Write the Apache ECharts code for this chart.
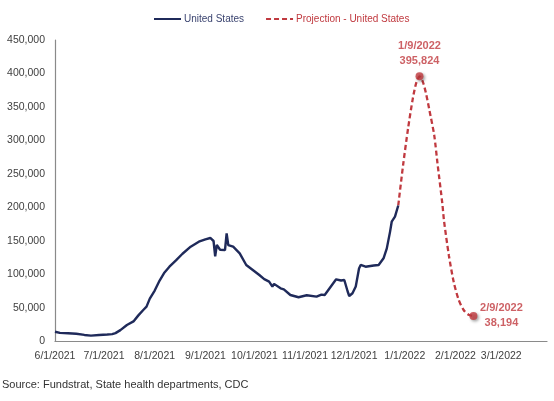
<!DOCTYPE html>
<html>
<head>
<meta charset="utf-8">
<script src="https://cdn.jsdelivr.net/npm/echarts@6/dist/echarts.min.js"></script>
<style>
html,body{margin:0;padding:0;background:#fff;}
#chart{width:554px;height:401px;}
</style>
</head>
<body>
<div id="chart"></div>
<script>
// ---- data ----
const actualDates = ['2021-06-01','2021-06-04','2021-06-09','2021-06-14','2021-06-19','2021-06-23','2021-06-28','2021-07-03','2021-07-06','2021-07-08','2021-07-11','2021-07-15','2021-07-19','2021-07-22','2021-07-25','2021-07-27','2021-07-29','2021-08-01','2021-08-04','2021-08-07','2021-08-10','2021-08-14','2021-08-18','2021-08-23','2021-08-28','2021-09-01','2021-09-04','2021-09-06','2021-09-07','2021-09-08','2021-09-10','2021-09-13','2021-09-14','2021-09-15','2021-09-18','2021-09-22','2021-09-26','2021-09-30','2021-10-04','2021-10-07','2021-10-10','2021-10-12','2021-10-13','2021-10-17','2021-10-19','2021-10-23','2021-10-28','2021-11-02','2021-11-03','2021-11-08','2021-11-11','2021-11-12','2021-11-13','2021-11-17','2021-11-20','2021-11-23','2021-11-25','2021-11-27','2021-11-28','2021-11-30','2021-12-02','2021-12-04','2021-12-05','2021-12-08','2021-12-09','2021-12-13','2021-12-16','2021-12-19','2021-12-21','2021-12-23','2021-12-24','2021-12-26','2021-12-28'];
const actualValues = [14600,12800,12300,11500,9800,8800,9700,10500,11000,12500,17000,24600,30000,39000,47000,52000,64000,76000,91000,103000,111600,121000,131000,141500,149000,152500,154500,150000,127000,144000,137000,136500,161500,144000,141500,131600,114200,106700,99200,93000,89300,82000,86000,79400,77900,69400,66000,69000,67500,67000,70000,72800,69400,82800,92800,91000,91800,75000,67900,72000,82000,109000,114200,111600,114200,113500,114200,124200,139000,164000,178800,186300,203000];

const projDates = ['2021-12-28','2021-12-31','2022-01-03','2022-01-06','2022-01-08','2022-01-10','2022-01-12','2022-01-14','2022-01-16','2022-01-19','2022-01-21','2022-01-24','2022-01-25','2022-01-28','2022-01-31','2022-02-03','2022-02-06','2022-02-09','2022-02-12'];
const projValues = [203000,264000,318000,364000,386000,395824,388000,370000,346000,308000,266000,205000,180000,128000,88000,62000,47000,40000,38194];

const noteDates = ['2022-01-10','2022-02-12'];
const noteValues = [395824,38194];
const noteLabels = ['1/9/2022\n395,824','2/9/2022\n38,194'];

const monthTicks = ['2021-06-01','2021-07-01','2021-08-01','2021-09-01','2021-10-01','2021-11-01','2021-12-01','2022-01-01','2022-02-01','2022-03-01'];
const yTicks = [0,50000,100000,150000,200000,250000,300000,350000,400000,450000];

const seriesNames = ['United States','Projection - United States'];

// ---- chart ----
const NAVY = '#1F2A5A';
const RED = '#C0393F';
function ts(s){ const p = s.split('-').map(Number); return Date.UTC(p[0], p[1]-1, p[2]); }
function fmtDate(v){ const d = new Date(v); return (d.getUTCMonth()+1)+'/'+d.getUTCDate()+'/'+d.getUTCFullYear(); }
function fmtNum(v){ return v.toLocaleString('en-US'); }

const chart = echarts.init(document.getElementById('chart'));
chart.setOption({
  animation:false,
  textStyle:{fontFamily:'Liberation Sans, Arial, sans-serif'},
  legend:{
    top:9, left:148, itemWidth:27, itemHeight:10, itemGap:21,
    itemStyle:{opacity:0},
    textStyle:{fontSize:10, padding:[0,0,0,-2]},
    data:[
      {name:seriesNames[0], textStyle:{color:'#3B4470'}},
      {name:seriesNames[1], textStyle:{color:RED}}
    ]
  },
  grid:{left:55, right:7, top:40, bottom:59.5},
  xAxis:{
    type:'value',
    min:ts('2021-06-01'), max:ts('2022-03-29'),
    axisLine:{show:true, lineStyle:{color:'#8A8A8A', width:1.2}},
    axisTick:{show:false},
    splitLine:{show:false},
    axisLabel:{
      customValues:monthTicks.map(ts),
      formatter:function(v){ return fmtDate(v); },
      color:'#404040', fontSize:10.5, margin:9, hideOverlap:false
    }
  },
  yAxis:{
    type:'value', min:0, max:450000, interval:50000,
    axisLine:{show:true, lineStyle:{color:'#8A8A8A', width:1.2}},
    axisTick:{show:false},
    splitLine:{show:false},
    axisLabel:{
      customValues:yTicks,
      formatter:function(v){ return fmtNum(v); },
      color:'#404040', fontSize:10.5, margin:10
    }
  },
  series:[
    {
      name:seriesNames[0], type:'line', symbol:'none',
      data:actualDates.map((d,i)=>[ts(d), actualValues[i]]),
      lineStyle:{color:NAVY, width:2.4}, itemStyle:{color:NAVY}, z:3
    },
    {
      name:seriesNames[1], type:'line', symbol:'none', smooth:0.25,
      data:projDates.map((d,i)=>[ts(d), projValues[i]]),
      lineStyle:{color:RED, width:2.3, type:[5,3]}, itemStyle:{color:RED}, z:2
    },
    {
      name:'notes', type:'scatter', symbolSize:8,
      data:noteDates.map((d,i)=>[ts(d), noteValues[i]]),
      itemStyle:{color:RED, shadowBlur:3, shadowColor:'rgba(0,0,0,0.45)', shadowOffsetX:1.5, shadowOffsetY:1.5},
      label:{
        show:true, position:['50%','50%'], align:'center', verticalAlign:'middle',
        color:RED, fontSize:11, fontWeight:'bold', lineHeight:15,
        formatter:function(p){ return noteLabels[p.dataIndex]; }
      },
      labelLayout:function(p){ return p.dataIndex===0 ? {dx:0, dy:-23} : {dx:28, dy:0}; },
      z:4
    }
  ],
  graphic:[
    {type:'text', left:2, top:379, style:{text:'Source: Fundstrat, State health departments, CDC', fill:'#333', fontSize:11, fontFamily:'Liberation Sans, Arial, sans-serif'}}
  ]
});
</script>
</body>
</html>
